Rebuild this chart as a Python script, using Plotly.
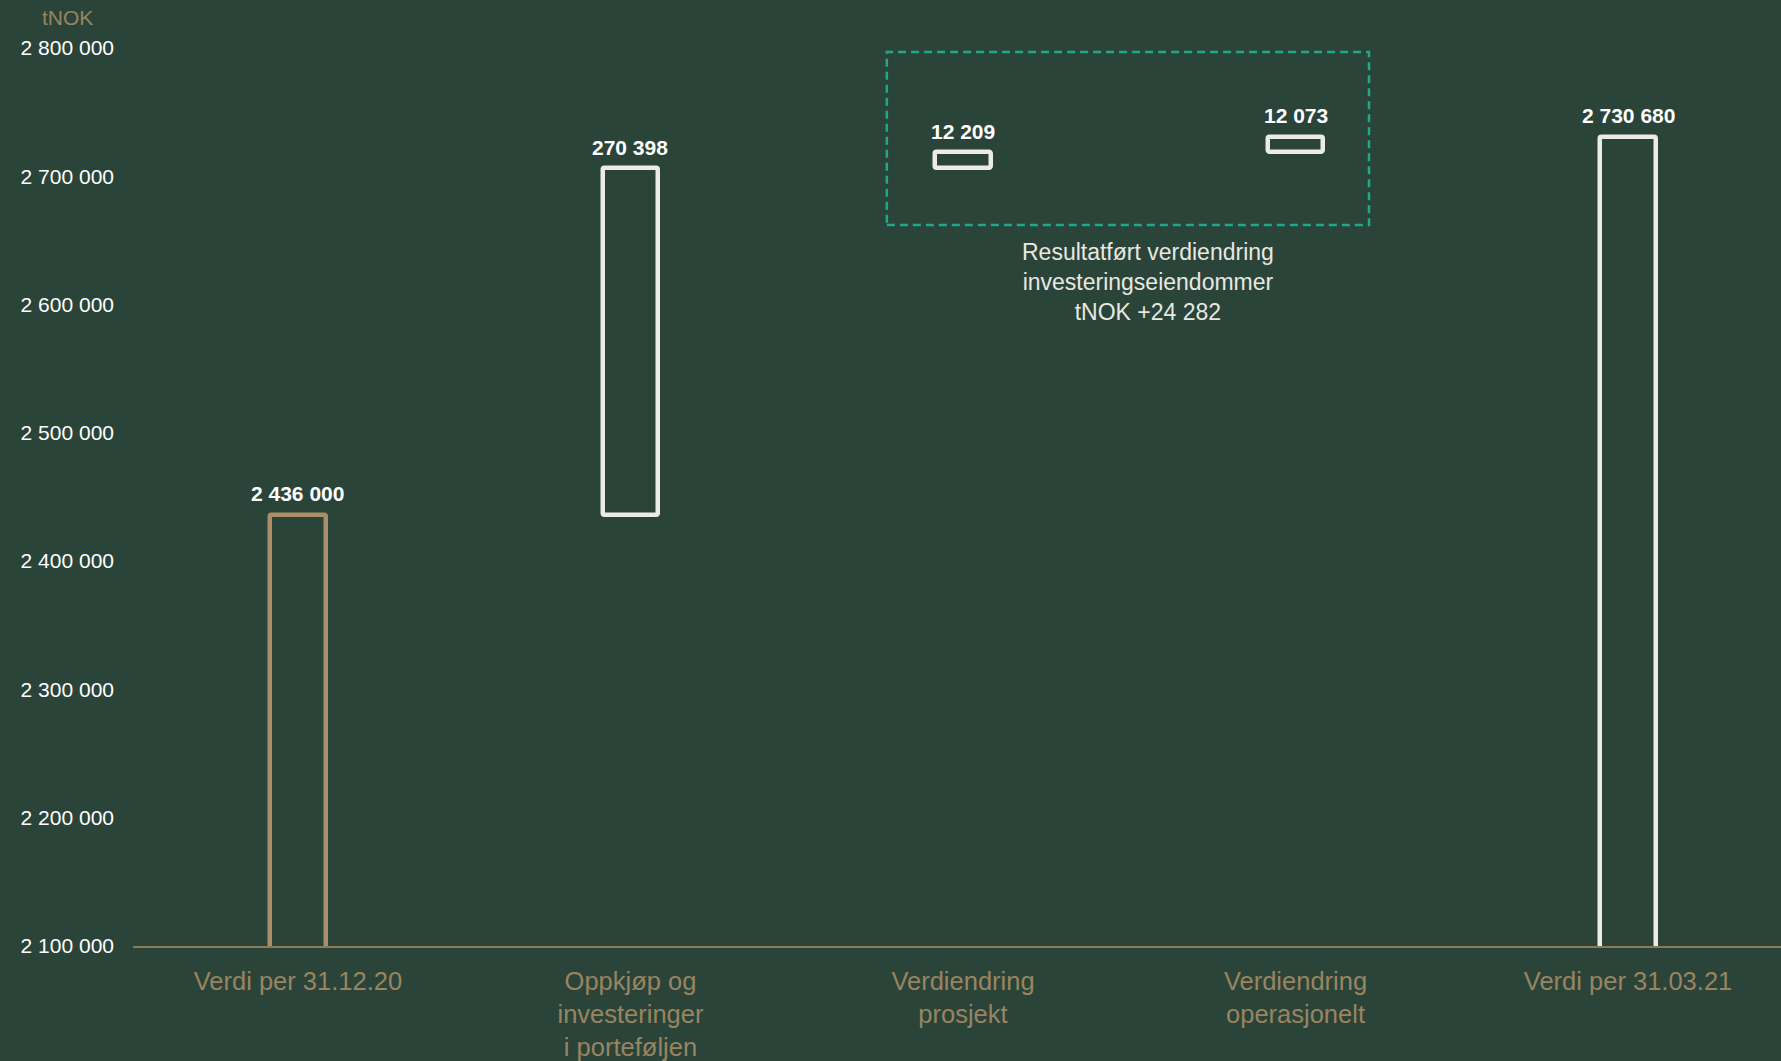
import plotly.graph_objects as go

categories = ["Verdi per 31.12.20", "Oppkjøp og<br>investeringer<br>i porteføljen",
              "Verdiendring<br>prosjekt", "Verdiendring<br>operasjonelt", "Verdi per 31.03.21"]
start_value = 2436000
changes = [270398, 12209, 12073]
end_value = 2730680
y_ticks = [2100000, 2200000, 2300000, 2400000, 2500000, 2600000, 2700000, 2800000]
unit_label = "tNOK"
box_title = "Resultatført verdiendring<br>investeringseiendommer<br>tNOK +"

BG = "#2a4439"
TAN = "#a98e66"
TAN_TXT = "#9a8460"
WHITE = "#edebe6"

# waterfall construction
bases = [0]
heights = [start_value]
running = start_value
for c in changes:
    bases.append(running)
    heights.append(c)
    running += c
bases.append(0)
heights.append(end_value)
tops = [b + h for b, h in zip(bases, heights)]
labels = [start_value] + changes + [end_value]

def fmt(v):
    return f"{v:,}".replace(",", " ")

fig = go.Figure()
fig.add_trace(go.Bar(
    x=categories, y=heights, base=bases, width=0.166,
    marker=dict(color=BG, line=dict(color=[TAN, WHITE, WHITE, WHITE, WHITE], width=4.5),
                cornerradius=2),
    hoverinfo="skip", showlegend=False,
))

for cat, top, lab in zip(categories, tops, labels):
    fig.add_annotation(x=cat, y=top, text=f"<b>{fmt(lab)}</b>", showarrow=False,
                       yanchor="middle", yshift=21,
                       font=dict(size=21, color="#ffffff", family="Liberation Sans, Arial"))

fig.add_annotation(xref="paper", yref="paper", x=-0.04, y=1.003, text=unit_label,
                   showarrow=False, xanchor="center", yanchor="middle",
                   font=dict(size=21, color=TAN_TXT, family="Liberation Sans, Arial"))

fig.add_shape(type="rect", x0=1.771, x1=3.221, y0=2662000, y1=2796800,
              line=dict(color="#1fa98a", width=2.5, dash="8px,5px"), layer="above")

fig.add_annotation(x=2.556, y=2662000, text=box_title + fmt(sum(changes[1:])), showarrow=False,
                   yanchor="top", yshift=-12,
                   font=dict(size=23, color="#e8e8e2", family="Liberation Sans, Arial"))

fig.update_layout(
    width=1781, height=1061,
    paper_bgcolor=BG, plot_bgcolor=BG,
    margin=dict(l=133, r=0, t=20, b=115),
    separators=", ",
    bargap=0,
    xaxis=dict(type="category", range=[-0.496, 4.46], showline=True, linecolor="#8c7a57",
               linewidth=2, showgrid=False, zeroline=False, ticks="",
               tickfont=dict(size=25.5, color=TAN_TXT, family="Liberation Sans, Arial"),
               ticklabelstandoff=11),
    yaxis=dict(range=[2100000, 2821826], tickvals=y_ticks, tickformat=",d",
               showgrid=False, zeroline=False, showline=False, ticks="",
               tickfont=dict(size=21, color="#ffffff", family="Liberation Sans, Arial"),
               ticklabelstandoff=18),
)

fig.write_html("out.html")
